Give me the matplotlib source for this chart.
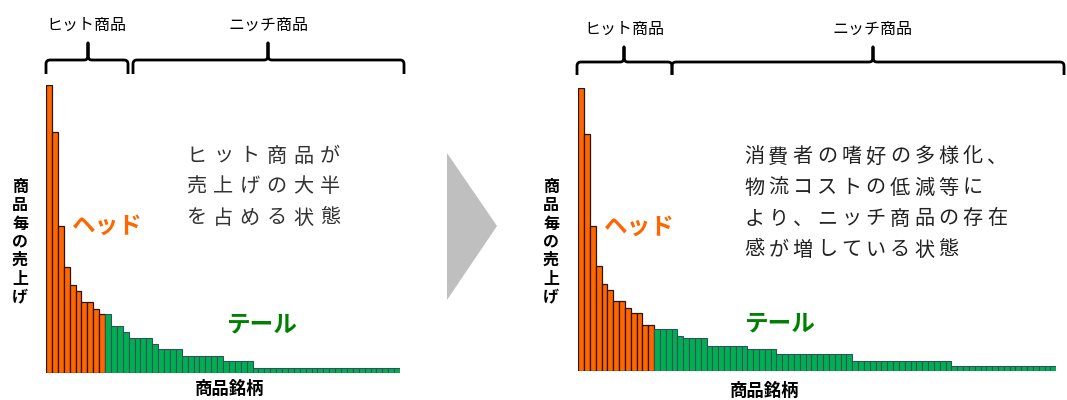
import matplotlib
matplotlib.use("Agg")
import matplotlib.pyplot as plt
from matplotlib.path import Path
from matplotlib.patches import PathPatch, Polygon

plt.rcParams['font.family'] = ['Noto Sans CJK JP', 'DejaVu Sans']

# Sales per product, ranked (left: hits dominate, right: long tail grows)
head_left = [288, 241, 147, 106, 88, 82, 71, 71, 64, 59]
tail_left = ([59, 47, 47, 41, 35, 35, 35, 35, 29, 24, 24, 24, 24]
             + [17] * 7 + [12] * 5 + [5.5] * 25)

head_right = [283, 237, 145, 105, 87, 81, 70, 70, 63, 58, 58, 46.5, 46.5]
tail_right = ([41.7] * 4 + [35] + [33.3] * 4 + [24.7] * 7 + [22.3] * 5
              + [17.3] * 13 + [10] * 17 + [5.2] * 18)

hit_label = "ヒット商品"
niche_label = "ニッチ商品"
y_label = "商品毎の売上げ"
x_label = "商品銘柄"
head_text = "ヘッド"
tail_text = "テール"
left_note = ["ヒット商品が", "売上げの大半", "を占める状態"]
right_note = ["消費者の嗜好の多様化、", "物流コストの低減等に",
              "より、ニッチ商品の存在", "感が増している状態"]

W, H = 1067, 400
fig = plt.figure(figsize=(W / 100, H / 100), dpi=100)

ORANGE = "#FF6600"
GREEN = "#00B050"


def bar_panel(left_px, base_px, width_px, top_px, heads, tails):
    n = len(heads) + len(tails)
    vmax = max(heads)
    ax = fig.add_axes([left_px / W, (H - base_px) / H,
                       width_px / W, (base_px - top_px) / H])
    xs_h = list(range(len(heads)))
    xs_t = list(range(len(heads), n))
    ax.bar(xs_h, heads, width=1.0, color=ORANGE, edgecolor="#2a1608",
           linewidth=0.9)
    ax.bar(xs_t, tails, width=1.0, color=GREEN, edgecolor="#34505E",
           linewidth=0.8)
    ax.set_xlim(-0.5, n - 0.5)
    ax.set_ylim(0, vmax)
    ax.axis("off")
    return ax


bar_panel(46, 373, 354, 85, head_left, tail_left)
bar_panel(578.3, 371, 478, 88, head_right, tail_right)

# Overlay in pixel coordinates for brackets, labels and the arrow
ov = fig.add_axes([0, 0, 1, 1], zorder=5)
ov.set_xlim(0, W)
ov.set_ylim(H, 0)
ov.axis("off")
ov.patch.set_alpha(0)


def brace(x0, x1, xm, y_end, y_h, y_peak, r=4):
    verts = [(x0, y_end), (x0, y_h + r), (x0, y_h), (x0 + r, y_h),
             (xm - r, y_h), (xm, y_h), (xm, y_h - r), (xm, y_peak),
             (xm, y_h - r), (xm, y_h), (xm + r, y_h),
             (x1 - r, y_h), (x1, y_h), (x1, y_h + r), (x1, y_end)]
    codes = [Path.MOVETO, Path.LINETO, Path.CURVE3, Path.CURVE3,
             Path.LINETO, Path.CURVE3, Path.CURVE3, Path.LINETO,
             Path.LINETO, Path.CURVE3, Path.CURVE3,
             Path.LINETO, Path.CURVE3, Path.CURVE3, Path.LINETO]
    ov.add_patch(PathPatch(Path(verts, codes), fill=False, lw=2,
                           color="black", capstyle="butt",
                           joinstyle="round"))


def spaced(text, x0, y, pitch, **kw):
    for i, ch in enumerate(text):
        ov.text(x0 + (i + 0.5) * pitch, y, ch, ha="center", va="center", **kw)


def vertical(text, x, y0, pitch, **kw):
    for i, ch in enumerate(text):
        ov.text(x, y0 + (i + 0.5) * pitch, ch, ha="center", va="center", **kw)


# Left panel decorations
brace(46, 128, 88, 74, 60, 43)
brace(133, 404, 268, 74, 60, 43)
ov.text(86, 25, hit_label, ha="center", va="center", fontsize=11.5)
ov.text(268, 25, niche_label, ha="center", va="center", fontsize=11.5)
vertical(y_label, 20, 178, 18.2, fontsize=11.5, fontweight="bold")
ov.text(230, 389, x_label, ha="center", va="center", fontsize=12.5,
        fontweight="bold")
ov.text(107, 226, head_text, ha="center", va="center", fontsize=17,
        fontweight="bold", color=ORANGE)
ov.text(262, 324, tail_text, ha="center", va="center", fontsize=17,
        fontweight="bold", color="#008000")
for k, line in enumerate(left_note):
    spaced(line, 183, 156 + k * 31, 26.7, fontsize=14.5, color="#333333")

# Right panel decorations
brace(577, 672, 624, 75, 62, 47)
brace(672, 1064, 873, 75, 62, 47)
ov.text(624, 29, hit_label, ha="center", va="center", fontsize=11.5)
ov.text(872, 29, niche_label, ha="center", va="center", fontsize=11.5)
vertical(y_label, 551, 178, 18.2, fontsize=11.5, fontweight="bold")
ov.text(765, 391, x_label, ha="center", va="center", fontsize=12.5,
        fontweight="bold")
ov.text(639, 227, head_text, ha="center", va="center", fontsize=17,
        fontweight="bold", color=ORANGE)
ov.text(780, 323, tail_text, ha="center", va="center", fontsize=17,
        fontweight="bold", color="#008000")
for k, line in enumerate(right_note):
    spaced(line, 742, 157 + k * 31, 24.3, fontsize=14.5, color="#222222")

# Arrow between the panels
ov.add_patch(Polygon([(447, 153), (497, 226), (447, 300)], closed=True,
                     facecolor="#BFBFBF", edgecolor="none"))

fig.savefig("out.png", dpi=100)
